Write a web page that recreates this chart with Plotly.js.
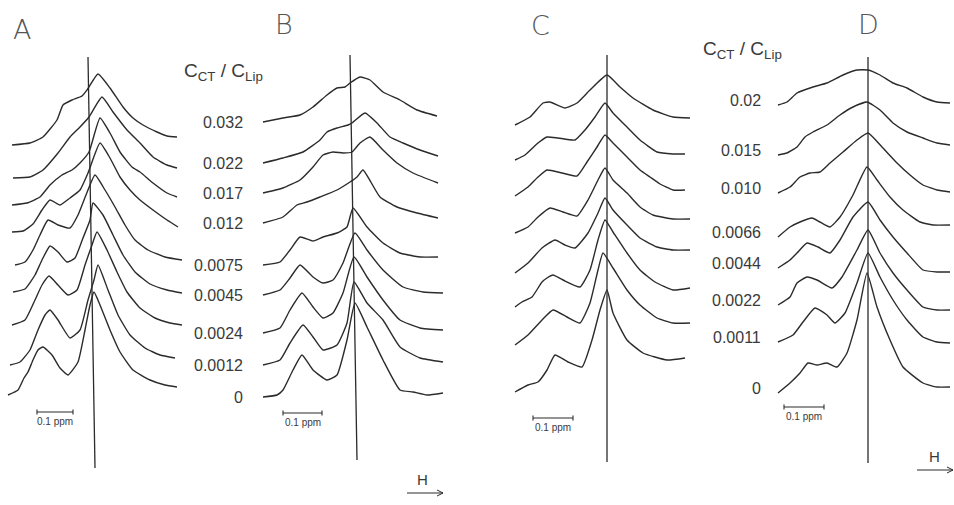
<!DOCTYPE html>
<html><head><meta charset="utf-8">
<script src="https://cdn.plot.ly/plotly-3.0.1.min.js"></script>
<style>html,body{margin:0;padding:0;background:#fff}#chart{width:954px;height:505px}</style>
</head><body><div id="chart"></div>
<script>
// ---------------- DATA ----------------
// Concentration ratios C_CT / C_Lip (top to bottom)
const concAB = ['0.032','0.022','0.017','0.012','0.0075','0.0045','0.0024','0.0012','0'];
const concCD = ['0.02','0.015','0.010','0.0066','0.0044','0.0022','0.0011','0'];

// Panel A: shift from reference line (Hz), intensity (a.u.), stacking offset
const shiftA = [
 [-79,-61,-48,-34,-28,-19,-9,-4,7,19,32,42,52,66,76,86],
 [-78,-61,-48,-33,-21,-11,-2,11,22,36,49,62,76,86],
 [-79,-64,-51,-41,-29,-19,-11,-2,9,19,29,41,49,62,76,86],
 [-79,-68,-58,-49,-41,-31,-21,-11,-3,9,19,29,39,49,62,76,87],
 [-76,-66,-58,-51,-43,-33,-21,-13,-5,4,14,24,34,44,57,74,91],
 [-78,-66,-56,-49,-41,-33,-24,-16,-8,-1,2,12,22,32,44,59,76,91],
 [-79,-66,-56,-49,-42,-33,-23,-14,-6,1,6,16,26,36,49,64,79,91],
 [-81,-71,-61,-53,-46,-41,-33,-21,-11,-3,3,7,17,27,39,54,69,84],
 [-83,-73,-67,-63,-58,-53,-48,-39,-31,-23,-13,-6,-1,3,9,19,29,42,59,74,86]
];
const intensA = [
 [0,2,8,25,40,45,49,55,71,57,38,27,20,13,9,8],
 [0,1,8,25,41,51,61,81,66,48,35,21,13,10],
 [0,2,8,20,30,35,42,53,87,72,53,38,33,22,12,8],
 [0,1,8,22,32,27,34,42,59,89,74,55,42,32,22,12,5],
 [0,3,15,30,45,40,37,50,70,90,75,58,40,25,15,8,5],
 [0,3,17,32,46,40,30,34,54,72,89,77,57,37,20,8,2,-1],
 [0,5,25,40,49,40,30,35,60,80,93,75,53,33,17,7,2,0],
 [0,3,15,35,50,55,45,27,35,65,85,100,75,50,30,17,10,7],
 [0,5,17,23,35,45,48,40,27,20,33,65,90,103,90,65,43,25,15,10,8]
];
const offsetA = [255,222,195,168,135,108,75,35,5];

// Panel B
const shiftB = [
 [-91,-71,-54,-41,-27,-17,-9,-4,6,16,29,46,63,83],
 [-91,-71,-51,-34,-27,-17,-6,-2,11,23,36,49,66,84],
 [-91,-71,-54,-41,-31,-21,-11,-2,6,16,29,43,59,84],
 [-91,-71,-57,-47,-34,-17,-4,3,9,26,43,63,84],
 [-91,-74,-64,-54,-41,-31,-17,-7,-1,13,29,46,66,84],
 [-91,-74,-64,-54,-41,-31,-21,-11,1,13,29,49,69,89],
 [-91,-74,-64,-52,-41,-31,-21,-11,0,13,29,46,66,89],
 [-91,-74,-64,-51,-41,-31,-17,-7,0,13,29,46,66,89],
 [-91,-77,-71,-61,-52,-41,-27,-17,-7,1,13,29,46,59,73,89]
];
const intensB = [
 [0,4,7,15,27,34,35,39,45,42,30,22,12,6],
 [0,5,11,23,31,35,38,40,50,40,26,20,13,7],
 [0,5,13,26,38,41,40,41,50,56,43,30,20,10],
 [0,6,18,21,26,33,41,46,53,26,16,10,5],
 [0,3,15,28,24,28,32,38,57,38,22,12,8,8],
 [0,5,17,30,18,12,15,32,62,45,25,8,3,2],
 [0,5,23,40,26,15,20,40,76,56,33,13,5,3],
 [0,5,22,40,28,15,20,42,83,62,45,18,7,3],
 [0,2,7,27,42,27,17,22,57,94,70,37,7,5,2,4]
];
const offsetB = [278,237,207,177,135,105,67,35,3];

// Panel C
const shiftC = [
 [-92,-77,-64,-57,-42,-30,-17,0,13,26,46,66,83],
 [-92,-82,-69,-60,-49,-32,-22,-12,-2,6,20,33,50,66,78],
 [-92,-79,-69,-60,-45,-30,-20,-10,-2,6,20,33,43,53,66,78],
 [-92,-79,-69,-57,-44,-30,-19,-9,-2,6,20,33,46,66,83],
 [-92,-79,-65,-52,-42,-32,-19,-9,-2,6,20,33,50,66,83],
 [-92,-85,-75,-65,-60,-54,-44,-27,-17,-9,-2,6,20,33,48,66,83],
 [-92,-79,-65,-54,-40,-27,-17,-9,-4,6,20,33,50,66,83],
 [-92,-79,-69,-60,-52,-39,-25,-15,-7,0,6,20,36,60,78]
];
const intensC = [
 [0,8,22,23,17,22,35,50,38,27,15,8,7],
 [0,5,17,23,22,20,30,43,57,47,33,20,8,6,6],
 [0,9,19,26,23,20,34,49,61,53,39,26,19,12,6,6],
 [0,6,16,25,21,17,33,53,65,53,40,26,18,14,14],
 [0,10,25,33,28,25,40,60,75,63,48,35,26,23,23],
 [0,5,10,25,29,32,27,20,37,67,87,75,54,37,25,17,19],
 [0,10,25,35,28,22,42,75,92,77,55,40,27,22,22],
 [0,7,10,22,37,30,25,52,82,102,79,52,39,32,34]
];
const offsetC = [275,240,204,167,127,93,55,8];

// Panel D
const shiftD = [
 [-90,-81,-71,-55,-41,-25,-11,0,12,25,39,55,69,82],
 [-90,-81,-71,-63,-55,-41,-28,-15,-1,12,25,39,55,69,82],
 [-90,-78,-68,-58,-48,-38,-25,-11,0,14,29,42,55,69,82],
 [-90,-78,-68,-56,-48,-38,-28,-15,-1,9,22,35,52,65,82],
 [-90,-78,-71,-61,-50,-38,-28,-15,0,12,25,39,55,69,82],
 [-90,-78,-71,-61,-51,-36,-26,-11,0,12,25,39,55,69,82],
 [-90,-75,-65,-53,-41,-33,-23,-11,0,12,25,39,55,69,82],
 [-90,-78,-68,-60,-51,-41,-31,-21,-11,-1,9,22,35,55,69,82]
];
const intensD = [
 [0,3,12,18,22,30,35,35,30,22,17,8,3,2],
 [0,2,8,18,23,30,40,48,53,45,32,23,17,12,10],
 [0,6,16,20,21,30,41,53,60,46,30,18,8,3,1],
 [0,10,15,19,15,10,20,42,70,57,40,27,15,12,12],
 [0,8,15,25,21,15,28,51,66,48,31,15,-2,-4,-4],
 [0,8,22,28,25,17,28,55,75,52,32,15,-2,-5,-5],
 [0,7,20,34,27,19,29,59,89,65,42,22,5,0,-1],
 [0,10,20,30,28,30,26,40,73,120,86,53,26,10,6,6]
];
const offsetD = [295,245,207,163,132,95,58,7];

const panelLetters = ['A','B','C','D'];
const scaleBarHz = [36, 39, 40, 40];   // 0.1 ppm
// ---------------- END DATA ----------------

const INK = '#2b2b2b';
const TXT = '#3a3a3a';
const FONT = 'Liberation Sans, Arial, sans-serif';
const linePx = [91, 354, 607, 868];      // reference line position of each panel (px)
const axisIds = ['x','x2','x3','x4'];
const traces = [];
function addPanel(ax, shifts, intens, offs){
  shifts.forEach((xs,i)=>{
    traces.push({type:'scatter', mode:'lines', xaxis:ax, yaxis:'y',
      x:xs, y:intens[i].map(v=>v+offs[i]),
      line:{color:INK, width:1.4, shape:'spline', smoothing:0.45}, hoverinfo:'skip', showlegend:false});
  });
}
addPanel('x', shiftA, intensA, offsetA);
addPanel('x2', shiftB, intensB, offsetB);
addPanel('x3', shiftC, intensC, offsetC);
addPanel('x4', shiftD, intensD, offsetD);

const shapes = [];
const annotations = [];
// reference vertical lines
const refTop = [[-3,343],[-4,345],[0,345],[0,343]];
const refBot = [[4,-68],[3,-60],[0,-62],[0,-63]];
axisIds.forEach((ax,k)=>{
  shapes.push({type:'line', xref:ax, yref:'y', x0:refTop[k][0], y0:refTop[k][1], x1:refBot[k][0], y1:refBot[k][1],
    line:{color:INK, width:1.3}});
});
// scale bars
const barLeft = [-54,-71,-74,-84];
const barY = [-12,-13,-18,-7];
axisIds.forEach((ax,k)=>{
  const x0 = barLeft[k], x1 = barLeft[k]+scaleBarHz[k], y=barY[k];
  shapes.push({type:'line', xref:ax, yref:'y', x0:x0, x1:x1, y0:y, y1:y, line:{color:INK,width:1.1}});
  shapes.push({type:'line', xref:ax, yref:'y', x0:x0, x1:x0, y0:y-2.5, y1:y+2.5, line:{color:INK,width:1.1}});
  shapes.push({type:'line', xref:ax, yref:'y', x0:x1, x1:x1, y0:y-2.5, y1:y+2.5, line:{color:INK,width:1.1}});
  annotations.push({xref:ax, yref:'y', x:(x0+x1)/2, y:y-9, text:'0.1 ppm', showarrow:false,
    font:{family:FONT, size:10, color:TXT}, xanchor:'center', yanchor:'middle'});
});
// panel letters (thin face)
const letterPos = [[-69,371],[-70,376],[-67,375],[0,376]];
axisIds.forEach((ax,k)=>{
  annotations.push({xref:ax, yref:'y', x:letterPos[k][0], y:letterPos[k][1], text:panelLetters[k], showarrow:false,
    font:{family:'DejaVu Sans ExtraLight, DejaVu Sans, sans-serif', size:27, color:'#555', weight:200},
    xanchor:'center', yanchor:'middle'});
});
// concentration labels
concAB.forEach((t,i)=>{
  annotations.push({xref:'x2', yref:'y', x:-109, y:offsetB[i], text:t, showarrow:false,
    font:{family:FONT, size:16, color:TXT}, xanchor:'right', yanchor:'middle'});
});
concCD.forEach((t,i)=>{
  annotations.push({xref:'x4', yref:'y', x:-105, y:offsetD[i]+5, text:t, showarrow:false,
    font:{family:FONT, size:16, color:TXT}, xanchor:'right', yanchor:'middle'});
});
// headers
const hdr = 'C<sub>CT</sub> / C<sub>Lip</sub>';
annotations.push({xref:'x2', yref:'y', x:-131, y:328, text:hdr, showarrow:false,
  font:{family:FONT, size:19, color:TXT}, xanchor:'center', yanchor:'middle'});
annotations.push({xref:'x4', yref:'y', x:-126, y:350, text:hdr, showarrow:false,
  font:{family:FONT, size:19, color:TXT}, xanchor:'center', yanchor:'middle'});
// field direction arrows
const arrows = [['x2',53,89,-93,68,-79],['x4',49,85,-70,66,-56]];
arrows.forEach(a=>{
  const [ax,x0,x1,y,hx,hy] = a;
  shapes.push({type:'line', xref:ax, yref:'y', x0:x0, x1:x1, y0:y, y1:y, line:{color:INK,width:1}});
  shapes.push({type:'line', xref:ax, yref:'y', x0:x1-6, x1:x1, y0:y+3, y1:y, line:{color:INK,width:1}});
  shapes.push({type:'line', xref:ax, yref:'y', x0:x1-6, x1:x1, y0:y-3, y1:y, line:{color:INK,width:1}});
  annotations.push({xref:ax, yref:'y', x:hx, y:hy, text:'H', showarrow:false,
    font:{family:FONT, size:15, color:TXT}, xanchor:'center', yanchor:'middle'});
});

const W=954, H=505;
const hiddenAx = {visible:false, showgrid:false, zeroline:false, fixedrange:true};
const layout = {
  width:W, height:H, margin:{l:0,r:0,t:0,b:0}, paper_bgcolor:'#fff', plot_bgcolor:'#fff',
  showlegend:false,
  yaxis: Object.assign({range:[-105,400], domain:[0,1]}, hiddenAx),
  shapes:shapes, annotations:annotations
};
axisIds.forEach((ax,k)=>{
  const key = k===0 ? 'xaxis' : 'xaxis'+(k+1);
  const cfg = Object.assign({range:[-linePx[k], W-linePx[k]], domain:[0,1]}, hiddenAx);
  if(k>0) cfg.overlaying = 'x';
  layout[key] = cfg;
});
Plotly.newPlot('chart', traces, layout, {staticPlot:true, displayModeBar:false});
</script></body></html>
